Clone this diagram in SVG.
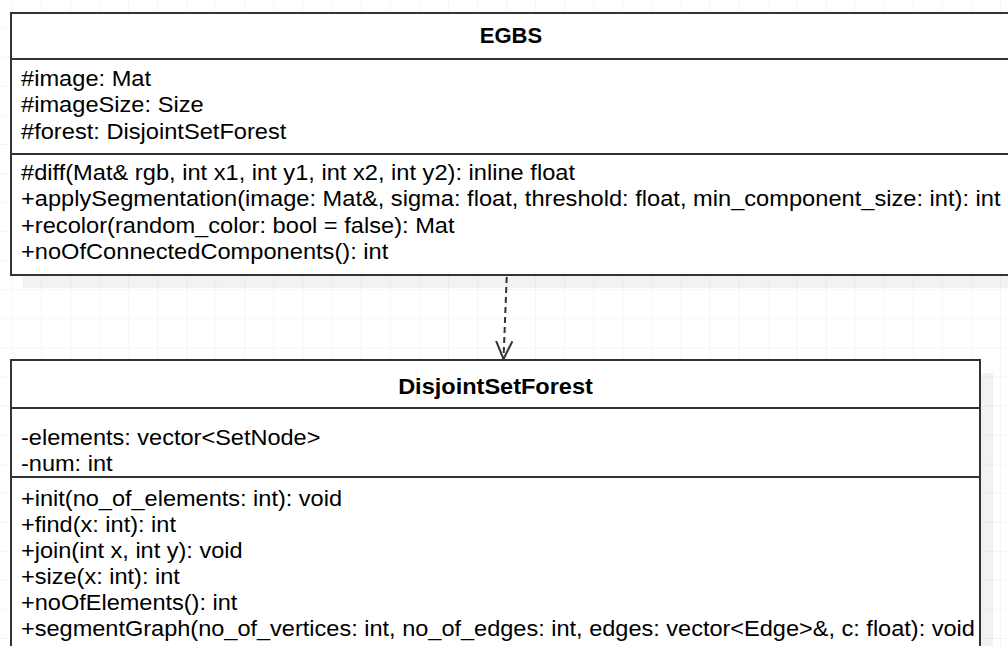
<svg xmlns="http://www.w3.org/2000/svg" width="1008" height="646" viewBox="0 0 1008 646">
<defs>
<pattern id="grid" x="12" y="-1.3" width="29.06" height="29.06" patternUnits="userSpaceOnUse">
<path d="M0 0 H29.06 M0 0 V29.06" fill="none" stroke="#ebebeb" stroke-width="1"/>
</pattern>
<marker id="open" markerWidth="20" markerHeight="20" viewBox="0 0 20 20" refX="18" refY="10" orient="auto" markerUnits="userSpaceOnUse">
<path d="M0 1.8 L18 10 L0 18.2" fill="none" stroke="#333333" stroke-width="2"/>
</marker>
<style>
.box{fill:#ffffff;stroke:#333333;stroke-width:2}
.shadow{fill:#000000;fill-opacity:0.05}
.sep{stroke:#333333;stroke-width:2}
.t{font-family:"Liberation Sans",Arial,sans-serif;font-size:22px;fill:#000000}
.title{font-family:"Liberation Sans",Arial,sans-serif;font-size:22px;font-weight:bold;fill:#000000;text-anchor:middle}
.edge{fill:none;stroke:#333333;stroke-width:2;stroke-dasharray:6 4}
</style>
</defs>
<rect width="1008" height="646" fill="#ffffff"/>
<rect width="1008" height="646" fill="url(#grid)"/>
<g id="EGBS">
<rect class="shadow" x="23" y="26" width="1000" height="262"/>
<rect class="box" x="11" y="13" width="1000" height="262"/>
<line class="sep" x1="11" y1="59" x2="1011" y2="59"/>
<line class="sep" x1="11" y1="154" x2="1011" y2="154"/>
<text class="title" x="511" y="43">EGBS</text>
<g transform="translate(21 0) scale(1.075 1)">
<text class="t" x="0" y="86">#image: Mat</text>
<text class="t" x="0" y="112.5">#imageSize: Size</text>
<text class="t" x="0" y="139">#forest: DisjointSetForest</text>
<text class="t" x="0" y="180">#diff(Mat&amp; rgb, int x1, int y1, int x2, int y2): inline float</text>
<text class="t" x="0" y="206.5">+applySegmentation(image: Mat&amp;, sigma: float, threshold: float, min_component_size: int): int</text>
<text class="t" x="0" y="233">+recolor(random_color: bool = false): Mat</text>
<text class="t" x="0" y="259">+noOfConnectedComponents(): int</text>
</g>
</g>
<g id="DisjointSetForest">
<rect class="shadow" x="23" y="373" width="970" height="300"/>
<rect class="box" x="11" y="360" width="969" height="300"/>
<line class="sep" x1="11" y1="408" x2="980" y2="408"/>
<line class="sep" x1="11" y1="477" x2="980" y2="477"/>
<g transform="translate(495.5 0) scale(1.07 1)">
<text class="title" x="0" y="394">DisjointSetForest</text>
</g>
<g transform="translate(21 0) scale(1.07 1)">
<text class="t" x="0" y="445">-elements: vector&lt;SetNode&gt;</text>
<text class="t" x="0" y="471">-num: int</text>
<text class="t" x="0" y="506">+init(no_of_elements: int): void</text>
<text class="t" x="0" y="532">+find(x: int): int</text>
<text class="t" x="0" y="558">+join(int x, int y): void</text>
<text class="t" x="0" y="584">+size(x: int): int</text>
<text class="t" x="0" y="610">+noOfElements(): int</text>
<text class="t" x="0" y="636">+segmentGraph(no_of_vertices: int, no_of_edges: int, edges: vector&lt;Edge&gt;&amp;, c: float): void</text>
</g>
</g>
<g id="connectors">
<path class="edge" d="M506.7 277 L503.5 359" marker-end="url(#open)"/>
</g>
</svg>
